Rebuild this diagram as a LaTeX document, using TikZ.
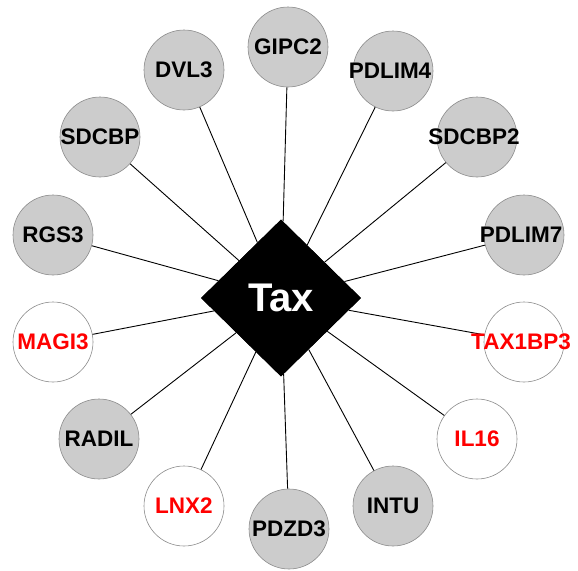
\documentclass[tikz,border=0pt]{standalone}
\usepackage{fontspec}
\setmainfont{Liberation Sans}
\usetikzlibrary{shapes.geometric}
\definecolor{nodegray}{HTML}{CCCCCC}
\definecolor{rimgray}{HTML}{8C8C8C}
\definecolor{hitred}{HTML}{FF0000}
\tikzset{
  gcirc/.style={circle, draw=rimgray, line width=0.6pt, fill=nodegray, minimum size=80pt, inner sep=0pt},
  wcirc/.style={circle, draw=rimgray, line width=0.6pt, fill=white, minimum size=80pt, inner sep=0pt},
  blab/.style={font=\bfseries\fontsize{22.5}{24}\selectfont, text=black, inner sep=0pt},
  rlab/.style={font=\bfseries\fontsize{22.5}{24}\selectfont, text=hitred, inner sep=0pt},
  hub/.style={diamond, fill=black, minimum width=160pt, minimum height=157pt, inner sep=0pt, text=white, font=\bfseries\fontsize{40}{42}\selectfont},
  edge/.style={draw=black, line width=0.9pt}
}
\begin{document}
\begin{tikzpicture}[x=1pt,y=-1pt]
\useasboundingbox (0,0) rectangle (578,570);
\node[hub] (tax) at (281,298) {};
\node[gcirc] (gipc2) at (288,47) {};
\node[gcirc] (pdlim4) at (393,71) {};
\node[gcirc] (sdcbp2) at (477,137) {};
\node[gcirc] (pdlim7) at (524,235) {};
\node[wcirc] (tax1bp3) at (524,342) {};
\node[wcirc] (il16) at (477,439) {};
\node[gcirc] (intu) at (393,506) {};
\node[gcirc] (pdzd3) at (289,529) {};
\node[wcirc] (lnx2) at (184,506) {};
\node[gcirc] (radil) at (99,439) {};
\node[wcirc] (magi3) at (53,342) {};
\node[gcirc] (rgs3) at (53,235) {};
\node[gcirc] (sdcbp) at (100,137) {};
\node[gcirc] (dvl3) at (184,70) {};
\foreach \n in {gipc2,pdlim4,sdcbp2,pdlim7,tax1bp3,il16,intu,pdzd3,lnx2,radil,magi3,rgs3,sdcbp,dvl3}
  \draw[edge] (tax) -- (\n);
\node[hub] at (tax) {Tax};
\node[blab] at (gipc2) {GIPC2};
\node[blab] at ([xshift=-3pt]pdlim4.center) {PDLIM4};
\node[blab] at ([xshift=-3pt]sdcbp2.center) {SDCBP2};
\node[blab] at ([xshift=-3pt]pdlim7.center) {PDLIM7};
\node[rlab] at ([xshift=-3pt]tax1bp3.center) {TAX1BP3};
\node[rlab] at (il16) {IL16};
\node[blab] at (intu) {INTU};
\node[blab] at (pdzd3) {PDZD3};
\node[rlab] at (lnx2) {LNX2};
\node[blab] at (radil) {RADIL};
\node[rlab] at (magi3) {MAGI3};
\node[blab] at (rgs3) {RGS3};
\node[blab] at (sdcbp) {SDCBP};
\node[blab] at (dvl3) {DVL3};
\end{tikzpicture}
\end{document}
